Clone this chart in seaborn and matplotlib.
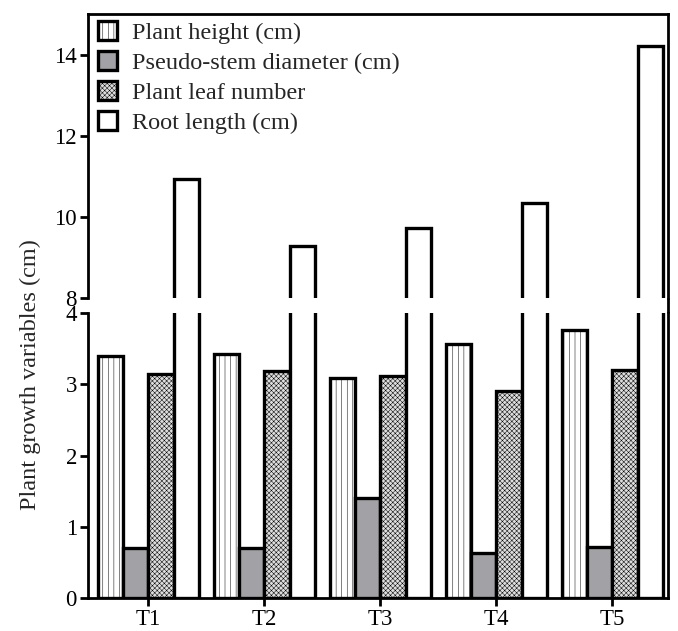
import matplotlib
matplotlib.use("Agg")
import matplotlib.pyplot as plt
from matplotlib.lines import Line2D
import seaborn as sns
import pandas as pd

treatments = ["T1", "T2", "T3", "T4", "T5"]
plant_height = [3.40, 3.43, 3.09, 3.56, 3.76]
stem_diameter = [0.70, 0.70, 1.40, 0.63, 0.72]
leaf_number = [3.15, 3.19, 3.11, 2.90, 3.20]
root_length = [10.93, 9.29, 9.73, 10.34, 14.22]
series_names = ["Plant height (cm)", "Pseudo-stem diameter (cm)",
                "Plant leaf number", "Root length (cm)"]
series_values = [plant_height, stem_diameter, leaf_number, root_length]

rows = []
for name, vals in zip(series_names, series_values):
    for t, v in zip(treatments, vals):
        rows.append({"Treatment": t, "Variable": name, "Value": v})
df = pd.DataFrame(rows)

sns.set_style("ticks")
plt.rcParams["font.family"] = ["Liberation Serif", "DejaVu Serif"]
plt.rcParams["hatch.linewidth"] = 0.35

W, H = 678, 631
fig = plt.figure(figsize=(W / 100, H / 100), dpi=100)
L, R = 88 / W, 668 / W
ax_up = fig.add_axes([L, 1 - 298 / H, R - L, (298 - 14) / H])
ax_lo = fig.add_axes([L, 1 - 598 / H, R - L, (598 - 313) / H])

palette = ["white", "#a2a2a6", "#dedede", "white"]
hatches = ["|||", "", "xxxxxxx", ""]

for ax in (ax_up, ax_lo):
    sns.barplot(data=df, x="Treatment", y="Value", hue="Variable",
                hue_order=series_names, order=treatments, palette=palette,
                width=0.87, gap=0, edgecolor="black", linewidth=2.4,
                saturation=1, ax=ax, legend=False)
    for cont, h in zip(ax.containers, hatches):
        for p in cont:
            p.set_hatch(h)
    ax.set_xlim(-0.52, 4.48)
    ax.set_xlabel("")
    ax.set_ylabel("")
    for s in ax.spines.values():
        s.set_linewidth(2)
        s.set_color("black")
    ax.tick_params(axis="both", direction="out", length=6, width=2,
                   labelsize=16.5, colors="black", pad=2)

ax_up.set_ylim(8, 15)
ax_up.set_yticks([8, 10, 12, 14])
ax_up.spines["bottom"].set_visible(False)
ax_up.tick_params(axis="x", bottom=False, labelbottom=False)

ax_lo.set_ylim(0, 4)
ax_lo.set_yticks([0, 1, 2, 3, 4])
ax_lo.spines["top"].set_visible(False)

# continuous right frame across the break
fig.add_artist(Line2D([R, R], [1 - 313 / H, 1 - 298 / H],
                      transform=fig.transFigure, lw=2, color="black",
                      solid_capstyle="butt"))

ax_up.legend(handles=ax_up.containers, labels=series_names,
             loc="upper left", bbox_to_anchor=(0.017, 0.975),
             frameon=False, fontsize=17.5, borderpad=0, borderaxespad=0,
             handlelength=0.8, handleheight=0.8, handletextpad=0.6,
             labelspacing=0.3)

fig.text(30 / W, 1 - 375 / H, "Plant growth variables (cm)", rotation=90,
         ha="center", va="center", fontsize=17.5)

fig.savefig("out.png", dpi=100)
